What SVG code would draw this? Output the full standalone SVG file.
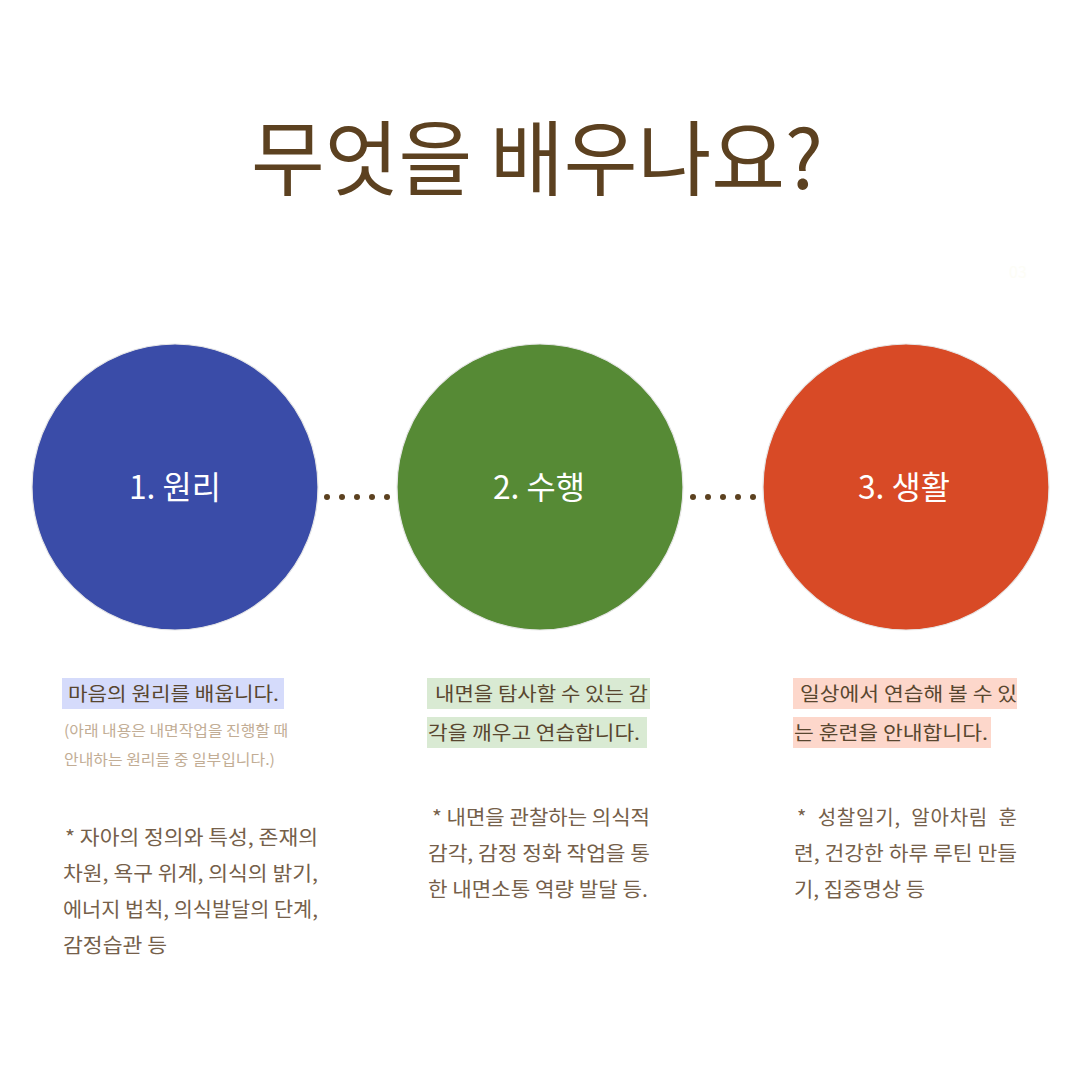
<svg xmlns="http://www.w3.org/2000/svg" width="1080" height="1080" viewBox="0 0 1080 1080">
<style>
  text { font-family: "Noto Sans CJK KR", "Noto Sans", sans-serif; }
  .title { font-size: 82px; font-weight: 400; fill: #5c4120; }
  .label { font-size: 32px; font-weight: 400; fill: #ffffff; }
  .lead { font-size: 19px; font-weight: 400; fill: #58462f; }
  .sub { font-size: 15px; font-weight: 400; fill: #c2ad95; }
  .body { font-size: 20px; font-weight: 400; fill: #75604a; }
  .node circle { stroke: #e6e6e6; stroke-width: 1.2; }
  .dot { fill: #5c4120; }
</style>
<rect width="1080" height="1080" fill="#ffffff"/>
<text x="1018" y="278" font-size="16" fill="#fdfdf6" text-anchor="middle">03</text>
<text class="title" x="537" y="189" text-anchor="middle" textLength="572" lengthAdjust="spacingAndGlyphs">무엇을 배우나요?</text>

<g id="connectors">
  <circle class="dot" cx="327" cy="497" r="3"/>
  <circle class="dot" cx="342" cy="497" r="3"/>
  <circle class="dot" cx="357" cy="497" r="3"/>
  <circle class="dot" cx="372" cy="497" r="3"/>
  <circle class="dot" cx="387" cy="497" r="3"/>
  <circle class="dot" cx="693" cy="497" r="3"/>
  <circle class="dot" cx="708" cy="497" r="3"/>
  <circle class="dot" cx="723" cy="497" r="3"/>
  <circle class="dot" cx="738" cy="497" r="3"/>
  <circle class="dot" cx="753" cy="497" r="3"/>
</g>

<g id="node-1" class="node">
  <circle cx="175" cy="487" r="143" fill="#3a4ca8"/>
  <text class="label" x="175" y="499" text-anchor="middle" textLength="92" lengthAdjust="spacingAndGlyphs">1. 원리</text>
</g>
<g id="node-2" class="node">
  <circle cx="540" cy="487" r="143" fill="#568a35"/>
  <text class="label" x="539" y="499" text-anchor="middle" textLength="92" lengthAdjust="spacingAndGlyphs">2. 수행</text>
</g>
<g id="node-3" class="node">
  <circle cx="906" cy="487" r="143" fill="#d84a26"/>
  <text class="label" x="904" y="499" text-anchor="middle" textLength="92" lengthAdjust="spacingAndGlyphs">3. 생활</text>
</g>

<g id="text-1">
  <rect x="62" y="678" width="222" height="31" fill="#d5dbfb"/>
  <text class="lead" x="68" y="701" textLength="211" lengthAdjust="spacingAndGlyphs">마음의 원리를 배웁니다.</text>
  <text class="sub" x="64" y="736" textLength="224" lengthAdjust="spacingAndGlyphs">(아래 내용은 내면작업을 진행할 때</text>
  <text class="sub" x="64" y="765" textLength="211" lengthAdjust="spacingAndGlyphs">안내하는 원리들 중 일부입니다.)</text>
  <text class="body" x="65" y="845" textLength="253" lengthAdjust="spacingAndGlyphs">* 자아의 정의와 특성, 존재의</text>
  <text class="body" x="63" y="881" textLength="255" lengthAdjust="spacingAndGlyphs">차원, 욕구 위계, 의식의 밝기,</text>
  <text class="body" x="63" y="917" textLength="255" lengthAdjust="spacingAndGlyphs">에너지 법칙, 의식발달의 단계,</text>
  <text class="body" x="63" y="953" textLength="104" lengthAdjust="spacingAndGlyphs">감정습관 등</text>
</g>

<g id="text-2">
  <rect x="427" y="678" width="223" height="31" fill="#d9ead3"/>
  <rect x="427" y="717" width="220" height="31" fill="#d9ead3"/>
  <text class="lead" x="435" y="701" textLength="213" lengthAdjust="spacingAndGlyphs">내면을 탐사할 수 있는 감</text>
  <text class="lead" x="428" y="740" textLength="212" lengthAdjust="spacingAndGlyphs">각을 깨우고 연습합니다.</text>
  <text class="body" x="432" y="825" textLength="218" lengthAdjust="spacingAndGlyphs">* 내면을 관찰하는 의식적</text>
  <text class="body" x="428" y="861" textLength="222" lengthAdjust="spacingAndGlyphs">감각, 감정 정화 작업을 통</text>
  <text class="body" x="428" y="897" textLength="220" lengthAdjust="spacingAndGlyphs">한 내면소통 역량 발달 등.</text>
</g>

<g id="text-3">
  <rect x="793" y="678" width="224" height="31" fill="#fdd7cb"/>
  <rect x="793" y="717" width="198" height="31" fill="#fdd7cb"/>
  <text class="lead" x="800" y="701" textLength="217" lengthAdjust="spacingAndGlyphs">일상에서 연습해 볼 수 있</text>
  <text class="lead" x="794" y="740" textLength="194" lengthAdjust="spacingAndGlyphs">는 훈련을 안내합니다.</text>
  <text class="body" x="797" y="825" textLength="220" lengthAdjust="spacing" xml:space="preserve">*  성찰일기,  알아차림  훈</text>
  <text class="body" x="794" y="861" textLength="223" lengthAdjust="spacingAndGlyphs">련, 건강한 하루 루틴 만들</text>
  <text class="body" x="794" y="897" textLength="131" lengthAdjust="spacingAndGlyphs">기, 집중명상 등</text>
</g>
</svg>
